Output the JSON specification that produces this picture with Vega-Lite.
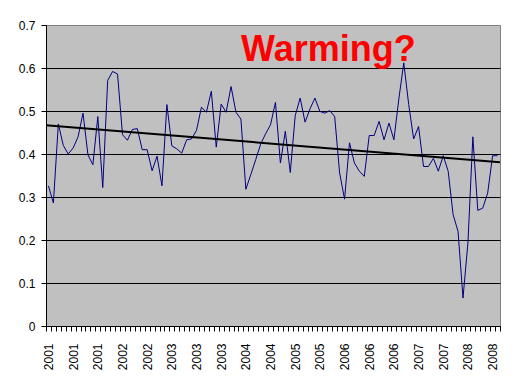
{
  "$schema": "https://vega.github.io/schema/vega-lite/v6.json",
  "width": 454,
  "height": 301,
  "autosize": "none",
  "padding": {"left": 46, "top": 25, "right": 16, "bottom": 57},
  "background": "white",
  "title": {
    "text": "Warming?",
    "color": "#ff0000",
    "font": "Liberation Sans",
    "fontSize": 36,
    "fontWeight": "bold",
    "anchor": "start",
    "frame": "group",
    "baseline": "alphabetic",
    "offset": 0,
    "dx": 195,
    "dy": 78
  },
  "config": {
    "view": {"fill": "#c0c0c0", "stroke": "#808080", "strokeWidth": 1},
    "axis": {
      "labelFont": "Liberation Sans",
      "labelFontSize": 12,
      "labelColor": "black",
      "domainColor": "black",
      "domainWidth": 1,
      "tickColor": "black",
      "title": null
    }
  },
  "datasets": {
    "monthly": [
      {"i": 0, "v": 0.326}, {"i": 1, "v": 0.286}, {"i": 2, "v": 0.47}, {"i": 3, "v": 0.42},
      {"i": 4, "v": 0.40}, {"i": 5, "v": 0.414}, {"i": 6, "v": 0.44}, {"i": 7, "v": 0.495},
      {"i": 8, "v": 0.398}, {"i": 9, "v": 0.375}, {"i": 10, "v": 0.487}, {"i": 11, "v": 0.322},
      {"i": 12, "v": 0.571}, {"i": 13, "v": 0.592}, {"i": 14, "v": 0.586}, {"i": 15, "v": 0.445},
      {"i": 16, "v": 0.432}, {"i": 17, "v": 0.457}, {"i": 18, "v": 0.459}, {"i": 19, "v": 0.41},
      {"i": 20, "v": 0.41}, {"i": 21, "v": 0.361}, {"i": 22, "v": 0.395}, {"i": 23, "v": 0.326},
      {"i": 24, "v": 0.515}, {"i": 25, "v": 0.419}, {"i": 26, "v": 0.412}, {"i": 27, "v": 0.402},
      {"i": 28, "v": 0.433}, {"i": 29, "v": 0.435}, {"i": 30, "v": 0.455}, {"i": 31, "v": 0.509},
      {"i": 32, "v": 0.497}, {"i": 33, "v": 0.546}, {"i": 34, "v": 0.416}, {"i": 35, "v": 0.516},
      {"i": 36, "v": 0.497}, {"i": 37, "v": 0.557}, {"i": 38, "v": 0.497}, {"i": 39, "v": 0.481},
      {"i": 40, "v": 0.318}, {"i": 41, "v": 0.352}, {"i": 42, "v": 0.387}, {"i": 43, "v": 0.423},
      {"i": 44, "v": 0.447}, {"i": 45, "v": 0.468}, {"i": 46, "v": 0.52}, {"i": 47, "v": 0.379},
      {"i": 48, "v": 0.453}, {"i": 49, "v": 0.357}, {"i": 50, "v": 0.489}, {"i": 51, "v": 0.53},
      {"i": 52, "v": 0.474}, {"i": 53, "v": 0.505}, {"i": 54, "v": 0.53}, {"i": 55, "v": 0.499},
      {"i": 56, "v": 0.495}, {"i": 57, "v": 0.501}, {"i": 58, "v": 0.487}, {"i": 59, "v": 0.356},
      {"i": 60, "v": 0.295}, {"i": 61, "v": 0.426}, {"i": 62, "v": 0.379}, {"i": 63, "v": 0.36},
      {"i": 64, "v": 0.348}, {"i": 65, "v": 0.443}, {"i": 66, "v": 0.443}, {"i": 67, "v": 0.476},
      {"i": 68, "v": 0.433}, {"i": 69, "v": 0.472}, {"i": 70, "v": 0.433}, {"i": 71, "v": 0.528},
      {"i": 72, "v": 0.612}, {"i": 73, "v": 0.515}, {"i": 74, "v": 0.435}, {"i": 75, "v": 0.464},
      {"i": 76, "v": 0.371}, {"i": 77, "v": 0.371}, {"i": 78, "v": 0.39}, {"i": 79, "v": 0.36},
      {"i": 80, "v": 0.396}, {"i": 81, "v": 0.36}, {"i": 82, "v": 0.259}, {"i": 83, "v": 0.22},
      {"i": 84, "v": 0.065}, {"i": 85, "v": 0.193}, {"i": 86, "v": 0.44}, {"i": 87, "v": 0.269},
      {"i": 88, "v": 0.274}, {"i": 89, "v": 0.309}, {"i": 90, "v": 0.396}, {"i": 91, "v": 0.396}
    ],
    "trend": [
      {"i": -0.5, "v": 0.467},
      {"i": 91.5, "v": 0.381}
    ]
  },
  "layer": [
    {
      "data": {"name": "monthly"},
      "mark": {"type": "line", "color": "#000080", "strokeWidth": 1},
      "encoding": {
        "x": {
          "field": "i",
          "type": "quantitative",
          "scale": {"domain": [-0.5, 91.5], "nice": false, "zero": false},
          "axis": {
            "orient": "bottom",
            "values": [0, 5, 10, 15, 20, 25, 30, 35, 40, 45, 50, 55, 60, 65, 70, 75, 80, 85, 90],
            "labelExpr": "toString(2001 + floor(datum.value / 12))",
            "labelAngle": -90,
            "labelOverlap": false,
            "labelPadding": 17,
            "ticks": false,
            "tickSize": 0,
            "grid": false
          }
        },
        "y": {
          "field": "v",
          "type": "quantitative",
          "scale": {"domain": [0, 0.7], "nice": false},
          "axis": {
            "values": [0, 0.1, 0.2, 0.3, 0.4, 0.5, 0.6, 0.7],
            "format": ".1~f",
            "tickSize": 5,
            "labelPadding": 6,
            "grid": true,
            "gridColor": {"condition": {"test": "datum.value <= 0 || datum.value >= 0.7", "value": "transparent"}, "value": "black"},
            "gridWidth": 1,
            "gridOpacity": 1
          }
        }
      }
    },
    {
      "data": {"name": "trend"},
      "mark": {"type": "line", "color": "black", "strokeWidth": 2},
      "encoding": {
        "x": {
          "field": "i",
          "type": "quantitative",
          "axis": {
            "orient": "bottom",
            "values": [-0.5, 0.5, 1.5, 2.5, 3.5, 4.5, 5.5, 6.5, 7.5, 8.5, 9.5, 10.5, 11.5, 12.5, 13.5, 14.5, 15.5, 16.5, 17.5, 18.5, 19.5, 20.5, 21.5, 22.5, 23.5, 24.5, 25.5, 26.5, 27.5, 28.5, 29.5, 30.5, 31.5, 32.5, 33.5, 34.5, 35.5, 36.5, 37.5, 38.5, 39.5, 40.5, 41.5, 42.5, 43.5, 44.5, 45.5, 46.5, 47.5, 48.5, 49.5, 50.5, 51.5, 52.5, 53.5, 54.5, 55.5, 56.5, 57.5, 58.5, 59.5, 60.5, 61.5, 62.5, 63.5, 64.5, 65.5, 66.5, 67.5, 68.5, 69.5, 70.5, 71.5, 72.5, 73.5, 74.5, 75.5, 76.5, 77.5, 78.5, 79.5, 80.5, 81.5, 82.5, 83.5, 84.5, 85.5, 86.5, 87.5, 88.5, 89.5, 90.5, 91.5],
            "labels": false,
            "ticks": true,
            "tickSize": 5,
            "grid": false
          }
        },
        "y": {"field": "v", "type": "quantitative"}
      }
    }
  ],
  "resolve": {"axis": {"x": "independent"}}
}
